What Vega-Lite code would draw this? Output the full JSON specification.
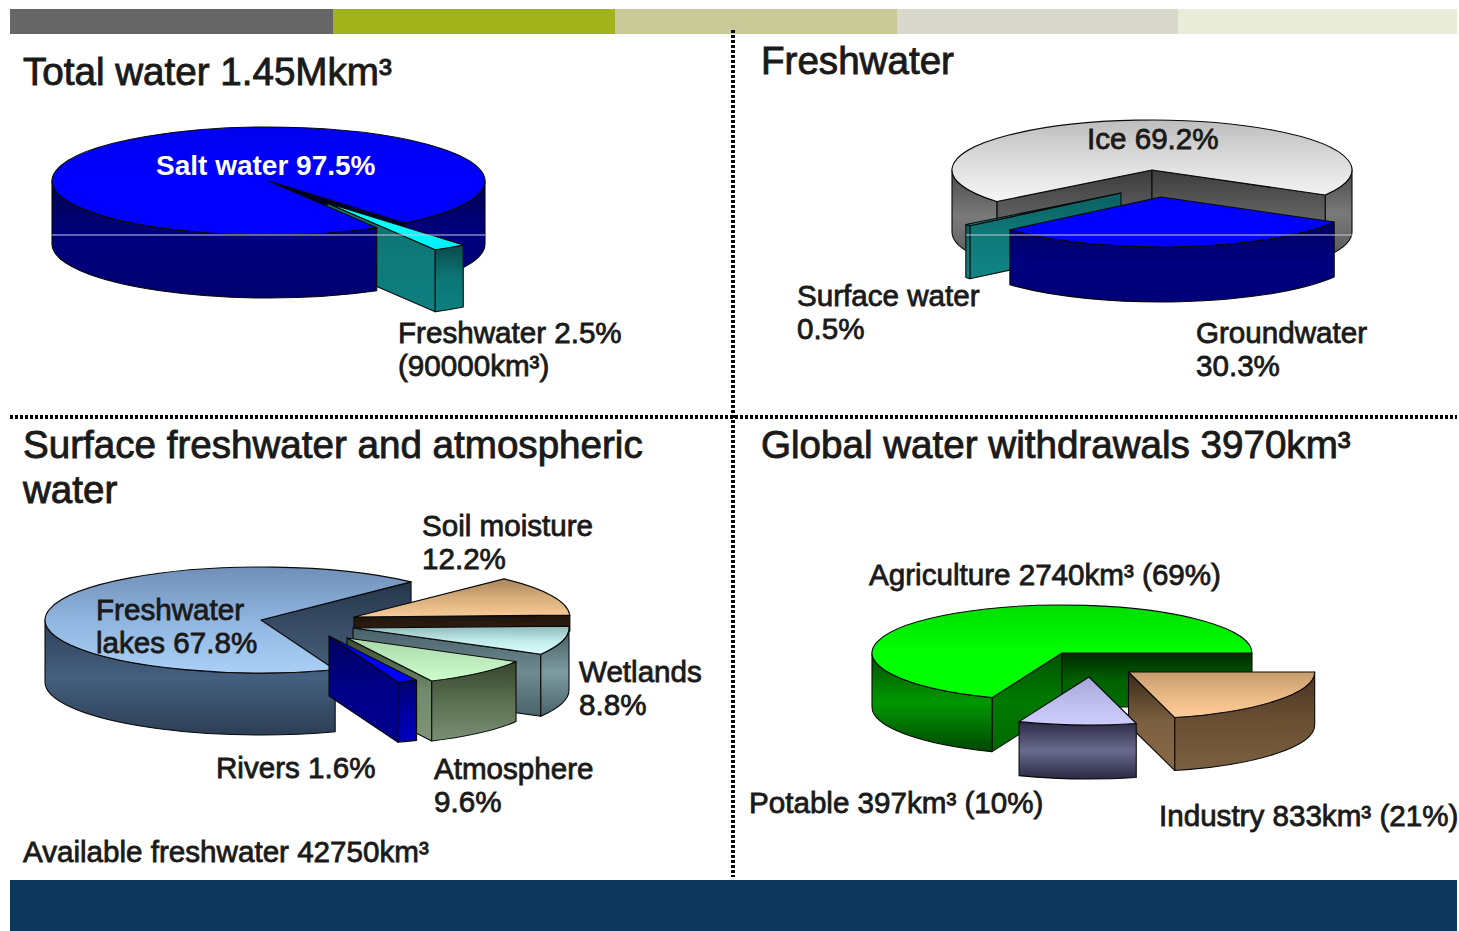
{
  "$schema": "https://vega.github.io/schema/vega-lite/v6.json",
  "width": 1459,
  "height": 931,
  "padding": 0,
  "autosize": {"type": "fit", "contains": "padding"},
  "background": "#ffffff",
  "config": {"view": {"stroke": null}},
  "datasets": {
    "slices": [
      {"pie": "Total water", "seq": 1, "slice": "Freshwater", "share": 2.5},
      {"pie": "Total water", "seq": 2, "slice": "Salt water", "share": 97.5},
      {"pie": "Freshwater", "seq": 1, "slice": "Groundwater", "share": 30.3},
      {"pie": "Freshwater", "seq": 2, "slice": "Surface water", "share": 0.5},
      {"pie": "Freshwater", "seq": 3, "slice": "Ice", "share": 69.2},
      {"pie": "Surface freshwater", "seq": 1, "slice": "Soil moisture", "share": 12.2},
      {"pie": "Surface freshwater", "seq": 2, "slice": "Wetlands", "share": 8.8},
      {"pie": "Surface freshwater", "seq": 3, "slice": "Atmosphere", "share": 9.6},
      {"pie": "Surface freshwater", "seq": 4, "slice": "Rivers", "share": 1.6},
      {"pie": "Surface freshwater", "seq": 5, "slice": "Freshwater lakes", "share": 67.8},
      {"pie": "Withdrawals", "seq": 1, "slice": "Industry", "share": 21},
      {"pie": "Withdrawals", "seq": 2, "slice": "Potable", "share": 10},
      {"pie": "Withdrawals", "seq": 3, "slice": "Agriculture", "share": 69}
    ],
    "texts": [
      {"kind": "title", "text": "Total water 1.45Mkm³"},
      {"kind": "title", "text": "Freshwater"},
      {"kind": "title", "text": "Surface freshwater and atmospheric\nwater"},
      {"kind": "title", "text": "Global water withdrawals 3970km³"},
      {"kind": "inverse", "text": "Salt water 97.5%"},
      {"kind": "label", "text": "Freshwater 2.5%\n(90000km³)"},
      {"kind": "label", "text": "Ice 69.2%"},
      {"kind": "label", "text": "Surface water\n0.5%"},
      {"kind": "label", "text": "Groundwater\n30.3%"},
      {"kind": "label", "text": "Soil moisture\n12.2%"},
      {"kind": "label", "text": "Freshwater\nlakes 67.8%"},
      {"kind": "label", "text": "Wetlands\n8.8%"},
      {"kind": "label", "text": "Rivers 1.6%"},
      {"kind": "label", "text": "Atmosphere\n9.6%"},
      {"kind": "label", "text": "Available freshwater 42750km³"},
      {"kind": "label", "text": "Agriculture 2740km³ (69%)"},
      {"kind": "label", "text": "Potable 397km³ (10%)"},
      {"kind": "label", "text": "Industry 833km³ (21%)"}
    ],
    "parts": [
      {"kind": "band", "part": "header grey"},
      {"kind": "band", "part": "header green"},
      {"kind": "band", "part": "header khaki"},
      {"kind": "band", "part": "header stone"},
      {"kind": "band", "part": "header pale"},
      {"kind": "band", "part": "footer"},
      {"kind": "divider", "part": "vertical divider"},
      {"kind": "divider", "part": "horizontal divider"},
      {"kind": "hairline", "part": "hairline left"},
      {"kind": "hairline", "part": "hairline right"}
    ]
  },
  "params": [
    {"name": "pies", "value": {
      "Total water": {"cx": 268.5, "cy": 181, "rx": 216.5, "ry": 54, "d": 63, "start": 141},
      "Freshwater": {"cx": 1152, "cy": 170, "rx": 200, "ry": 50, "d": 62, "start": 120},
      "Surface freshwater": {"cx": 261, "cy": 620, "rx": 216, "ry": 53, "d": 62, "start": 44},
      "Withdrawals": {"cx": 1062, "cy": 653, "rx": 190, "ry": 48, "d": 54, "start": 90}
    }},
    {"name": "sliceLayout", "value": {
      "Salt water": {"dx": 0, "dy": 0, "z": 30, "back": 10},
      "Freshwater": {"dx": 58.5, "dy": 22, "z": 20, "d": 62},
      "Ice": {"dx": 0, "dy": 0, "z": 10},
      "Surface water": {"dx": -31, "dy": 23, "z": 20, "d": 53},
      "Groundwater": {"dx": 9, "dy": 27, "z": 30, "d": 55},
      "Freshwater lakes": {"dx": 0, "dy": 0, "z": 10},
      "Soil moisture": {"dx": 93, "dy": -3, "z": 20, "d": 16},
      "Wetlands": {"dx": 92, "dy": 8, "z": 30},
      "Atmosphere": {"dx": 86, "dy": 18, "z": 40, "k": 0.9, "d": 60},
      "Rivers": {"dx": 68, "dy": 16, "z": 50, "k": 0.93, "d": 60},
      "Agriculture": {"dx": 0, "dy": 0, "z": 10},
      "Industry": {"dx": 66.5, "dy": 19, "z": 20, "k": 0.98, "d": 53},
      "Potable": {"dx": 27, "dy": 24, "z": 30}
    }},
    {"name": "paints", "value": {
      "Salt water": {"top": ["#0000ee", "#0000ff", "#0000ff"], "wall": ["#00004e", "#000080", "#000070"], "end": ["#000020", "#000030", "#000040"]},
      "Freshwater": {"top": ["#00ffff", "#00ffff", "#00eeff"], "wall": ["#0a4a4a", "#0c7676", "#0c8080"], "end": ["#116a6a", "#0f7a7a", "#0f7f7f"]},
      "Ice": {"top": ["#bdbdbd", "#dcdcdc", "#f6f6f6"], "wall": ["#4a4a4a", "#7a7a7a", "#5a5a5a"], "start": ["#3c3c3c", "#606060", "#6a6a6a"], "end": ["#3c3c3c", "#606060", "#6a6a6a"]},
      "Surface water": {"top": ["#0f7a7a", "#0f7a7a", "#0f7a7a"], "wall": ["#0a5f5f", "#0f7a7a", "#108585"], "start": ["#0a5f5f", "#0f7a7a", "#108585"]},
      "Groundwater": {"top": ["#0000ff", "#0000ff", "#0000ff"], "wall": ["#000060", "#000080", "#000078"]},
      "Freshwater lakes": {"top": ["#6f8fb8", "#8fb4de", "#abd0f7"], "wall": ["#2e4058", "#44607f", "#2c3e55"], "end": ["#24364a", "#3a4f68", "#4a6280"]},
      "Soil moisture": {"top": ["#a88558", "#d8ae7c", "#f8cc98"], "wall": ["#4a3320", "#6a4f33", "#7a5f40"], "end": ["#1e140c", "#2a1a10", "#2a1a10"]},
      "Wetlands": {"top": ["#8fb8b8", "#bfe8e8", "#dcffff"], "wall": ["#3e5a60", "#7f9ca0", "#48646a"], "end": ["#48606a", "#6f8a90", "#48646a"]},
      "Atmosphere": {"top": ["#a8d8a8", "#bceabc", "#ccffcc"], "wall": ["#34442c", "#5a6e50", "#7a8f74"], "end": ["#3a4a30", "#6f8a6a", "#7f9478"]},
      "Rivers": {"top": ["#0000ff", "#0000ff", "#0000ff"], "wall": ["#000070", "#0000a0", "#0000c0"], "end": ["#000060", "#000088", "#000090"]},
      "Agriculture": {"top": ["#00dd00", "#00ff00", "#00ff00"], "wall": ["#005000", "#009800", "#004800"], "start": ["#005500", "#007a00", "#006a00"], "end": ["#002a00", "#006000", "#007000"]},
      "Industry": {"top": ["#c69c6d", "#e8b884", "#ffcc99"], "wall": ["#4a3320", "#6a4f33", "#7a5f40"], "end": ["#3a2a18", "#7a5f40", "#8a6a48"]},
      "Potable": {"top": ["#a5a5d8", "#bcbcec", "#ccccff"], "wall": ["#2a2a44", "#6a6a90", "#2a2a44"]}
    }},
    {"name": "labelAt", "value": {
      "Total water 1.45Mkm³": [23, 85],
      "Freshwater": [761, 74],
      "Surface freshwater and atmospheric\nwater": [23, 458],
      "Global water withdrawals 3970km³": [761, 458],
      "Salt water 97.5%": [156, 175],
      "Freshwater 2.5%\n(90000km³)": [398, 343],
      "Ice 69.2%": [1087, 149],
      "Surface water\n0.5%": [797, 306],
      "Groundwater\n30.3%": [1196, 343],
      "Soil moisture\n12.2%": [422, 536],
      "Freshwater\nlakes 67.8%": [96, 620],
      "Wetlands\n8.8%": [579, 682],
      "Rivers 1.6%": [216, 778],
      "Atmosphere\n9.6%": [434, 779],
      "Available freshwater 42750km³": [23, 862],
      "Agriculture 2740km³ (69%)": [869, 585],
      "Potable 397km³ (10%)": [749, 813],
      "Industry 833km³ (21%)": [1159, 826]
    }},
    {"name": "partAt", "value": {
      "header grey": {"x": [10, 333], "y": [9, 34], "c": "#666666"},
      "header green": {"x": [333, 615], "y": [9, 34], "c": "#a0b41a"},
      "header khaki": {"x": [615, 897], "y": [9, 34], "c": "#c9c998"},
      "header stone": {"x": [897, 1178], "y": [9, 34], "c": "#d8d8cc"},
      "header pale": {"x": [1178, 1457], "y": [9, 34], "c": "#e9ecd9"},
      "footer": {"x": [10, 1457], "y": [880, 931], "c": "#0e375c"},
      "vertical divider": {"x": [733, 733], "y": [30, 877], "c": "#000000"},
      "horizontal divider": {"x": [10, 1457], "y": [417, 417], "c": "#000000"},
      "hairline left": {"x": [52, 485], "y": [235, 235], "c": "#c8c8d8"},
      "hairline right": {"x": [966, 1352], "y": [235, 235], "c": "#c8c8d8"}
    }}
  ],
  "encoding": {
    "x": {"field": "px", "type": "quantitative", "axis": null, "scale": {"domain": [0, 1459], "range": [0, 1459]}},
    "y": {"field": "py", "type": "quantitative", "axis": null, "scale": {"domain": [0, 931], "range": [0, 931]}}
  },
  "layer": [
    {
      "data": {"name": "parts"},
      "transform": [
        {"filter": "datum.kind === 'band'"},
        {"calculate": "partAt[datum.part].x[0]", "as": "px"},
        {"calculate": "partAt[datum.part].x[1]", "as": "px2"},
        {"calculate": "partAt[datum.part].y[0]", "as": "py"},
        {"calculate": "partAt[datum.part].y[1]", "as": "py2"},
        {"calculate": "partAt[datum.part].c", "as": "tone"}
      ],
      "mark": {"type": "rect"},
      "encoding": {
        "x2": {"field": "px2"},
        "y2": {"field": "py2"},
        "fill": {"field": "tone", "type": "nominal", "scale": null}
      }
    },
    {
      "data": {"name": "parts"},
      "transform": [
        {"filter": "datum.kind === 'divider'"},
        {"calculate": "partAt[datum.part].x[0]", "as": "px"},
        {"calculate": "partAt[datum.part].x[1]", "as": "px2"},
        {"calculate": "partAt[datum.part].y[0]", "as": "py"},
        {"calculate": "partAt[datum.part].y[1]", "as": "py2"}
      ],
      "mark": {"type": "rule", "color": "#000000", "strokeWidth": 4, "strokeDash": [3, 2]},
      "encoding": {
        "x2": {"field": "px2"},
        "y2": {"field": "py2"}
      }
    },
    {
      "data": {"name": "slices"},
      "transform": [
        {"stack": "share", "groupby": ["pie"], "sort": [{"field": "seq", "order": "ascending"}], "as": ["s0", "s1"]},
        {"calculate": "pies[datum.pie].start + datum.s0 * 3.6", "as": "a0"},
        {"calculate": "pies[datum.pie].start + datum.s1 * 3.6", "as": "a1"},
        {"calculate": "sliceLayout[datum.slice]", "as": "g"},
        {"calculate": "pies[datum.pie].rx * (datum.g.k || 1)", "as": "rx"},
        {"calculate": "pies[datum.pie].ry * (datum.g.k || 1)", "as": "ry"},
        {"calculate": "datum.g.d || pies[datum.pie].d", "as": "d"},
        {"calculate": "pies[datum.pie].cx + datum.g.dx", "as": "px"},
        {"calculate": "pies[datum.pie].cy + datum.g.dy", "as": "py"},
        {"calculate": "['wallB', 'start', 'end', 'wallA', 'top']", "as": "faces"},
        {"flatten": ["faces"], "as": ["face"]},
        {"calculate": "datum.face === 'wallB' ? max(datum.a0, 450) : datum.face === 'wallA' ? max(datum.a0, 90) : datum.face === 'end' ? datum.a1 : datum.a0", "as": "lo"},
        {"calculate": "datum.face === 'wallB' ? min(datum.a1, 630) : datum.face === 'wallA' ? min(datum.a1, 270) : datum.face === 'start' ? datum.a0 : datum.a1", "as": "hi"},
        {"calculate": "round(100 * datum.rx * sin(datum.lo * PI / 180)) / 100", "as": "ax"},
        {"calculate": "round(-100 * datum.ry * cos(datum.lo * PI / 180)) / 100", "as": "ay"},
        {"calculate": "round(100 * datum.rx * sin(datum.hi * PI / 180)) / 100", "as": "bx"},
        {"calculate": "round(-100 * datum.ry * cos(datum.hi * PI / 180)) / 100", "as": "by"},
        {"calculate": "'A' + datum.rx + ',' + datum.ry + ' 0 ' + (datum.hi - datum.lo > 180 ? 1 : 0)", "as": "arc"},
        {"calculate": "datum.face === 'top' ? 'M0,0L' + datum.ax + ',' + datum.ay + datum.arc + ' 1 ' + datum.bx + ',' + datum.by + 'Z' : (datum.face === 'start' && sin(datum.lo * PI / 180) < 0) || (datum.face === 'end' && sin(datum.lo * PI / 180) > 0) ? 'M0,0L' + datum.ax + ',' + datum.ay + 'L' + datum.ax + ',' + (datum.ay + datum.d) + 'L0,' + datum.d + 'Z' : (datum.face === 'wallA' || datum.face === 'wallB') && datum.hi > datum.lo ? 'M' + datum.ax + ',' + datum.ay + datum.arc + ' 1 ' + datum.bx + ',' + datum.by + 'L' + datum.bx + ',' + (datum.by + datum.d) + datum.arc + ' 0 ' + datum.ax + ',' + (datum.ay + datum.d) + 'Z' : 'M0,0'", "as": "outline"},
        {"calculate": "(datum.g.back && (datum.face === 'wallB' || datum.face === 'end') ? datum.g.back : datum.g.z) * 10 + indexof(['wallB', 'start', 'end', 'wallA', 'top'], datum.face)", "as": "z"},
        {"calculate": "paints[datum.slice][indexof(datum.face, 'wall') === 0 ? 'wall' : datum.face] || paints[datum.slice].wall", "as": "c"},
        {"calculate": "{gradient: 'linear', x1: 0, y1: 0, x2: 0, y2: 1, stops: [{offset: 0, color: datum.c[0]}, {offset: 0.5, color: datum.c[1]}, {offset: 1, color: datum.c[2]}]}", "as": "paint"}
      ],
      "mark": {"type": "point", "filled": true, "opacity": 1, "stroke": "#0a0a0a", "strokeWidth": 1.1, "strokeJoin": "round"},
      "encoding": {
        "shape": {"field": "outline", "type": "nominal", "scale": null},
        "size": {"value": 4},
        "fill": {"field": "paint", "type": "nominal", "scale": null},
        "order": {"field": "z", "type": "quantitative"}
      }
    },
    {
      "data": {"name": "parts"},
      "transform": [
        {"filter": "datum.kind === 'hairline'"},
        {"calculate": "partAt[datum.part].x[0]", "as": "px"},
        {"calculate": "partAt[datum.part].x[1]", "as": "px2"},
        {"calculate": "partAt[datum.part].y[0]", "as": "py"}
      ],
      "mark": {"type": "rule", "color": "#c8c8d8", "strokeWidth": 1},
      "encoding": {"x2": {"field": "px2"}}
    },
    {
      "data": {"name": "texts"},
      "transform": [
        {"filter": "datum.kind === 'title'"},
        {"calculate": "labelAt[datum.text][0]", "as": "px"},
        {"calculate": "labelAt[datum.text][1]", "as": "py"}
      ],
      "mark": {"type": "text", "font": "Liberation Sans", "fontSize": 38.6, "align": "left", "baseline": "alphabetic", "lineBreak": "\n", "lineHeight": 45, "fill": "#1a1a1a", "stroke": "#1a1a1a", "strokeWidth": 0.9},
      "encoding": {"text": {"field": "text", "type": "nominal"}}
    },
    {
      "data": {"name": "texts"},
      "transform": [
        {"filter": "datum.kind === 'label'"},
        {"calculate": "labelAt[datum.text][0]", "as": "px"},
        {"calculate": "labelAt[datum.text][1]", "as": "py"}
      ],
      "mark": {"type": "text", "font": "Liberation Sans", "fontSize": 29.6, "align": "left", "baseline": "alphabetic", "lineBreak": "\n", "lineHeight": 33, "fill": "#1a1a1a", "stroke": "#1a1a1a", "strokeWidth": 0.8},
      "encoding": {"text": {"field": "text", "type": "nominal"}}
    },
    {
      "data": {"name": "texts"},
      "transform": [
        {"filter": "datum.kind === 'inverse'"},
        {"calculate": "labelAt[datum.text][0]", "as": "px"},
        {"calculate": "labelAt[datum.text][1]", "as": "py"}
      ],
      "mark": {"type": "text", "font": "Liberation Sans", "fontSize": 28, "fontWeight": "bold", "align": "left", "baseline": "alphabetic", "fill": "#ffffff"},
      "encoding": {"text": {"field": "text", "type": "nominal"}}
    }
  ]
}
